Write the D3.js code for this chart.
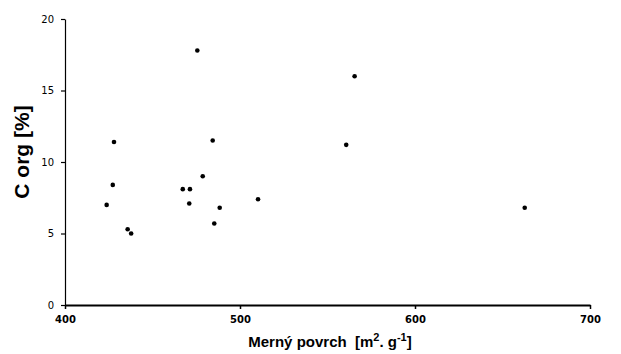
<!DOCTYPE html>
<html>
<head>
<meta charset="utf-8">
<script src="https://cdn.jsdelivr.net/npm/d3@7"></script>
<style>
  body { margin: 0; background: #fff; }
  #chart text { fill: #000; }
</style>
</head>
<body>
<div id="chart"></div>
<script>
// Merný povrch [m2.g-1] vs C org [%]
const surface = [475.6, 484.4, 428.0, 427.3, 423.8, 435.8, 437.8, 467.3, 471.4,
                 478.7, 471.0, 488.4, 485.3, 510.3, 560.7, 565.5, 662.7];
const carbon  = [17.8, 11.5, 11.4, 8.4, 7.0, 5.3, 5.0, 8.1, 8.1,
                 9.0, 7.1, 6.8, 5.7, 7.4, 11.2, 16.0, 6.8];
const xTicks = [400, 500, 600, 700];
const yTicks = [0, 5, 10, 15, 20];

const W = 621, H = 354;
const svg = d3.select('#chart').append('svg')
    .attr('width', W).attr('height', H);

const x = d3.scaleLinear().domain([400, 700]).range([65, 590]);
const y = d3.scaleLinear().domain([0, 20]).range([305, 19]);

// y axis
const yAxis = svg.append('g')
    .attr('transform', `translate(${x(400)},0)`)
    .call(d3.axisLeft(y).tickValues(yTicks).tickSize(4).tickPadding(7).tickSizeOuter(0));
yAxis.select('.domain').attr('stroke', '#000').attr('stroke-width', 1.2);
yAxis.selectAll('.tick line').attr('stroke', '#000').attr('stroke-width', 1.2);
yAxis.selectAll('text')
    .style('font-family', '"DejaVu Sans", sans-serif')
    .style('font-size', '10px');

// x axis
const xAxis = svg.append('g')
    .attr('transform', `translate(0,${y(0)})`)
    .call(d3.axisBottom(x).tickValues(xTicks).tickSize(4).tickPadding(7).tickSizeOuter(0));
xAxis.select('.domain').attr('stroke', '#000').attr('stroke-width', 2.2);
xAxis.selectAll('.tick line').attr('stroke', '#000').attr('stroke-width', 1.5);
xAxis.selectAll('text')
    .style('font-family', '"DejaVu Sans", sans-serif')
    .style('font-size', '10px')
    .style('font-weight', 'bold');

// points
svg.append('g').selectAll('circle')
    .data(surface.map((s, i) => ({ s, c: carbon[i] })))
    .enter().append('circle')
    .attr('cx', d => x(d.s))
    .attr('cy', d => y(d.c))
    .attr('r', 2.3)
    .attr('fill', '#000');

// axis titles
svg.append('text')
    .attr('transform', 'translate(29,152) rotate(-90)')
    .attr('text-anchor', 'middle')
    .style('font-family', '"Liberation Sans", Arial, sans-serif')
    .style('font-size', '21px')
    .style('font-weight', 'bold')
    .text('C org [%]');

const xt = svg.append('text')
    .attr('x', 330)
    .attr('y', 347)
    .attr('text-anchor', 'middle')
    .style('font-family', '"Liberation Sans", Arial, sans-serif')
    .style('font-size', '15px')
    .style('font-weight', 'bold')
    .attr('xml:space', 'preserve');
xt.append('tspan').text('Merný povrch  [m');
xt.append('tspan').attr('dy', -6).style('font-size', '11px').text('2');
xt.append('tspan').attr('dy', 6).text('. g');
xt.append('tspan').attr('dy', -6).style('font-size', '11px').text('-1');
xt.append('tspan').attr('dy', 6).text(']');
</script>
</body>
</html>
